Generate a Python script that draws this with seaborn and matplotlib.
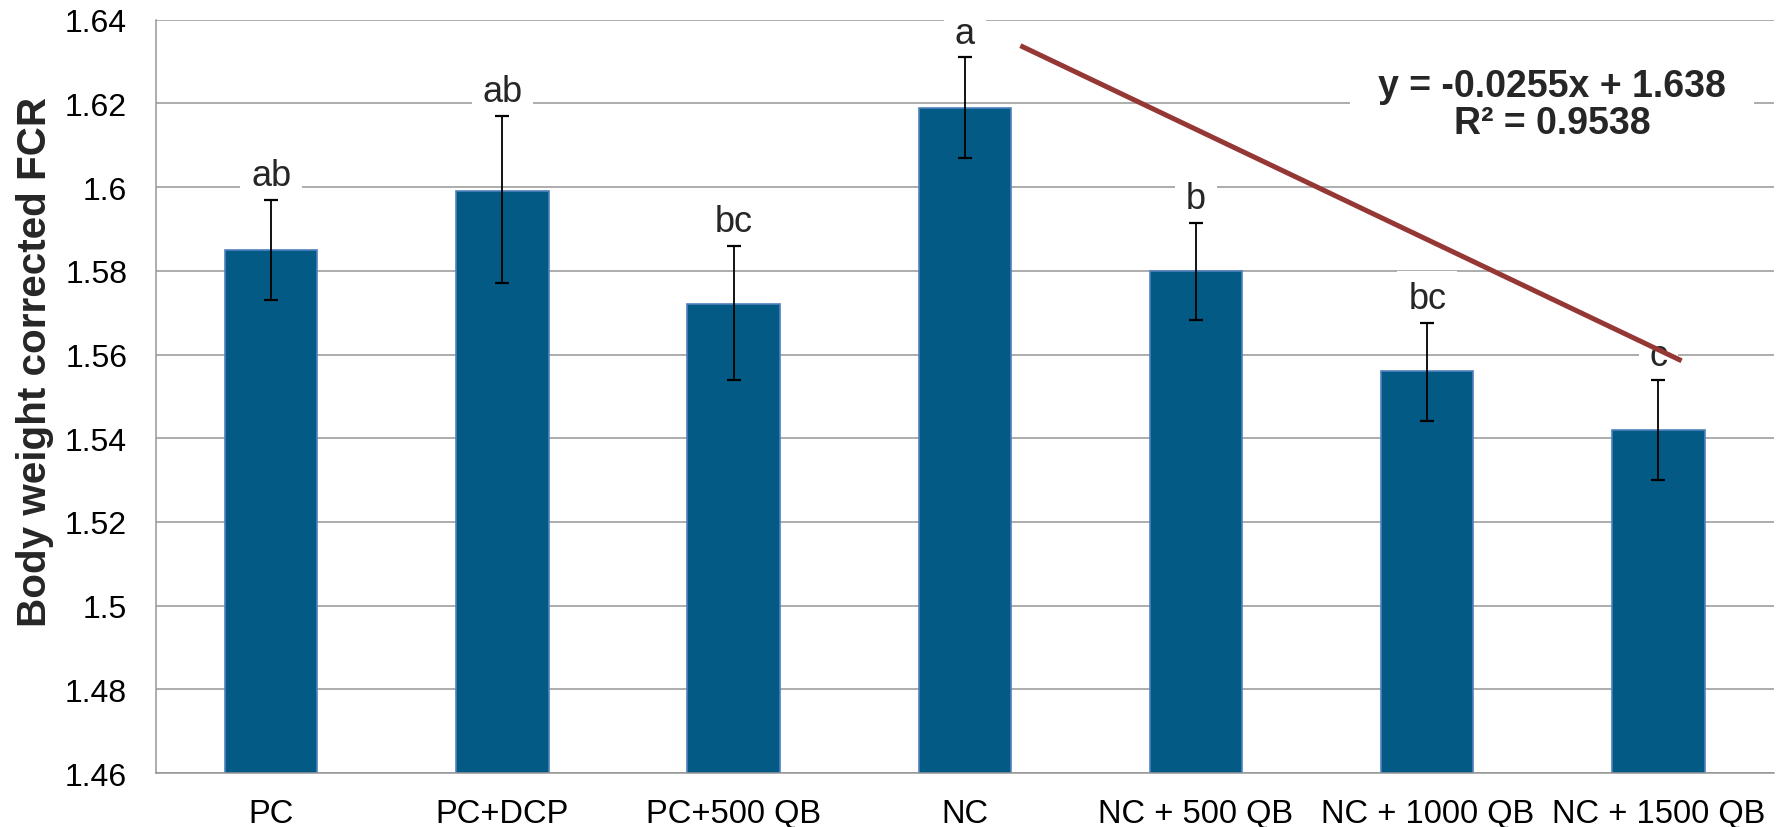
import numpy as np
import matplotlib
matplotlib.use('Agg')
import matplotlib.pyplot as plt
from matplotlib import font_manager
import seaborn as sns

# Bar chart data
groups = ['PC', 'PC+DCP', 'PC+500 QB', 'NC', 'NC + 500 QB', 'NC + 1000 QB', 'NC + 1500 QB']
fcr = [1.585, 1.599, 1.572, 1.619, 1.580, 1.556, 1.542]
err_up = [0.012, 0.018, 0.014, 0.012, 0.0115, 0.0115, 0.012]
err_down = [0.012, 0.022, 0.018, 0.012, 0.0118, 0.012, 0.012]
letters = ['ab', 'ab', 'bc', 'a', 'b', 'bc', 'c']

y_ticks = [1.46, 1.48, 1.50, 1.52, 1.54, 1.56, 1.58, 1.60, 1.62, 1.64]
y_tick_labels = ['1.46', '1.48', '1.5', '1.52', '1.54', '1.56', '1.58', '1.6', '1.62', '1.64']

# trend line over the NC groups, as drawn (category position, value)
trend_x = [3.24, 6.10]
trend_y = [1.6338, 1.5585]
trend_label = 'y = -0.0255x + 1.638\nR\u00b2 = 0.9538'
trend_label_pos = (5.54, 1.6198)

sns.set_style('white')
plt.rcParams['font.family'] = ['Liberation Sans', 'DejaVu Sans']

bar_color = '#035a85'
edge_color = '#4f81bd'
grid_color = '#969696'

fig = plt.figure(figsize=(17.81, 8.28), dpi=100)
ax = fig.add_axes([0.0874, 0.0652, 0.9087, 0.9098])

sns.barplot(x=groups, y=fcr, color=bar_color, saturation=1, width=0.4,
            edgecolor=edge_color, linewidth=1.2, ax=ax, zorder=2)

pos = np.arange(len(groups))
ax.errorbar(pos, fcr, yerr=[err_down, err_up], fmt='none', ecolor='black',
            elinewidth=1.3, capsize=5, capthick=1.6, zorder=4)

ax.set_xlim(-0.5, len(groups) - 0.5)
ax.set_ylim(y_ticks[0], y_ticks[-1])
ax.set_yticks(y_ticks)
ax.set_yticklabels(y_tick_labels)
ax.set_xlabel('')
ax.set_ylabel('')

ax.yaxis.grid(True, color=grid_color, linewidth=1.1)
ax.set_axisbelow(True)
for side in ['top', 'right']:
    ax.spines[side].set_visible(False)
for side in ['left', 'bottom']:
    ax.spines[side].set_color(grid_color)
    ax.spines[side].set_linewidth(1.1)

ax.tick_params(axis='y', length=6.5, width=1.1, color=grid_color, pad=14,
               labelsize=23, labelcolor='black')
ax.tick_params(axis='x', which='major', length=0, pad=18, labelsize=23.5,
               labelcolor='black')
ax.set_xticks(np.arange(-0.5, len(groups), 1), minor=True)
ax.tick_params(axis='x', which='minor', length=7, width=1.1, color=grid_color)

# significance letters above the error bars
for i, lab in enumerate(letters):
    ax.text(pos[i], fcr[i] + err_up[i] + 0.0058, lab, ha='center', va='center',
            fontsize=26, zorder=3,
            bbox=dict(boxstyle='square,pad=0.3', fc='white', ec='none'))

ax.plot(trend_x, trend_y, color='#953735', linewidth=3.6, zorder=5,
        solid_capstyle='butt')
ax.text(trend_label_pos[0], trend_label_pos[1], trend_label, ha='center',
        va='center', fontsize=27, fontweight='bold', linespacing=1.05, zorder=3,
        bbox=dict(boxstyle='square,pad=0.75', fc='white', ec='none'))

# y label in a narrow bold face, sized to the reference length
names = {f.name for f in font_manager.fontManager.ttflist}
narrow = 'Liberation Sans Narrow' if 'Liberation Sans Narrow' in names else 'Liberation Sans'
ylab = ax.text(-0.0748, 0.547, 'Body weight corrected FCR', transform=ax.transAxes,
               rotation=90, ha='center', va='center', fontsize=26,
               fontweight='bold', family=[narrow, 'DejaVu Sans'])
fig.canvas.draw()
length = ylab.get_window_extent().height
ylab.set_fontsize(26 * 529 / length)

fig.savefig('out.png', dpi=100)
